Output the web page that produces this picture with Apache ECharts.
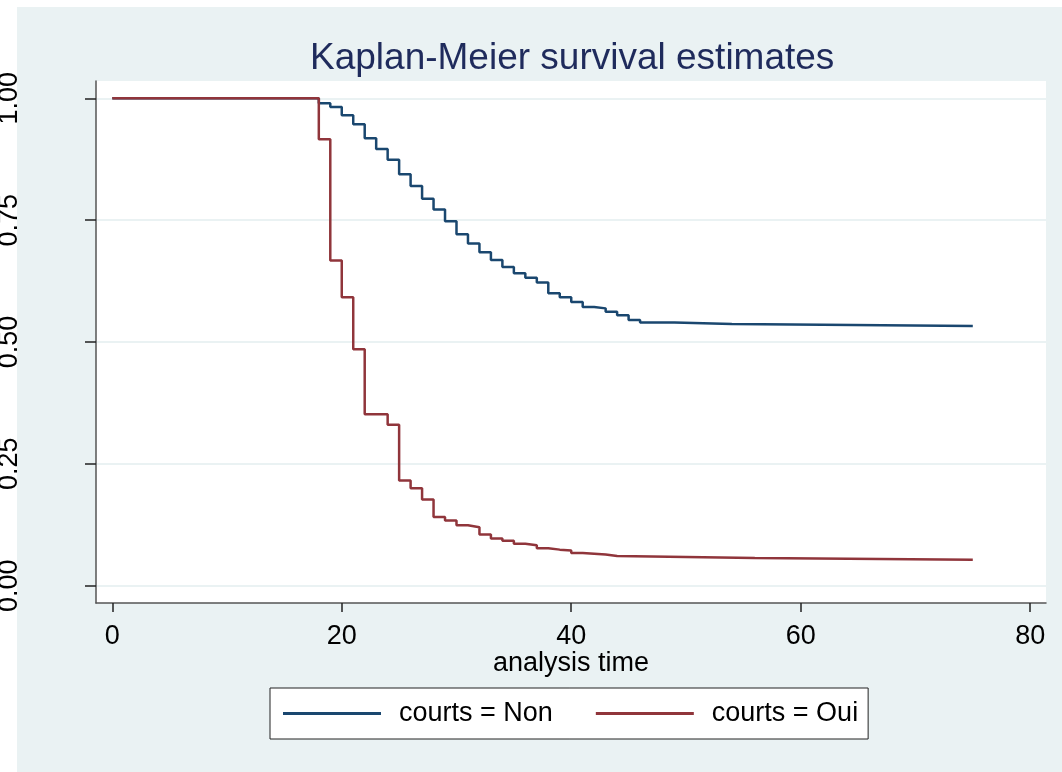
<!DOCTYPE html>
<html>
<head>
<meta charset="utf-8">
<title>Kaplan-Meier survival estimates</title>
<script src="https://cdn.jsdelivr.net/npm/echarts@6.0.0/dist/echarts.min.js"></script>
<style>
	html, body { margin: 0; padding: 0; background: #ffffff; }
	#wrap { position: relative; width: 1062px; height: 772px; overflow: hidden; }
	#bg { position: absolute; left: 17px; top: 7px; right: 0; bottom: 0; background: #eaf2f3; }
	#main { position: absolute; left: 0; top: 0; width: 1062px; height: 772px; }
</style>
</head>
<body>
<div id="wrap">
	<div id="bg"></div>
	<div id="main"></div>
</div>
<script>
// courts = Non
var nonTimes = [0, 18, 19, 20, 21, 22, 23, 24, 25, 26, 27, 28, 29, 30, 31, 32, 33, 34, 35, 36, 37, 38, 39, 40, 41, 42, 43, 44, 45, 46, 49, 54, 75];
var nonSurv  = [1, 0.990, 0.982, 0.965, 0.947, 0.918, 0.896, 0.874, 0.844, 0.820, 0.794, 0.772, 0.748, 0.721, 0.702, 0.684, 0.668, 0.654, 0.641, 0.632, 0.622, 0.600, 0.592, 0.582, 0.572, 0.569, 0.562, 0.555, 0.545, 0.540, 0.537, 0.533, 0.533];

// courts = Oui
var ouiTimes = [0, 18, 19, 20, 21, 22, 24, 25, 26, 27, 28, 29, 30, 31, 32, 33, 34, 35, 36, 37, 38, 39, 40, 41, 43, 44, 56, 75];
var ouiSurv  = [1, 0.916, 0.667, 0.592, 0.485, 0.352, 0.330, 0.216, 0.200, 0.177, 0.141, 0.134, 0.124, 0.120, 0.105, 0.097, 0.092, 0.086, 0.083, 0.077, 0.074, 0.072, 0.067, 0.064, 0.061, 0.057, 0.053, 0.053];

var xTicks = [0, 20, 40, 60, 80];
var yTicks = [0, 0.25, 0.5, 0.75, 1];

function pairs(xs, ys) {
	var out = [];
	for (var i = 0; i < xs.length; i++) out.push([xs[i], ys[i]]);
	return out;
}

var font = "'Liberation Sans', Arial, sans-serif";
var chart = echarts.init(document.getElementById('main'), null, { renderer: 'canvas' });

var option = {
	backgroundColor: 'transparent',
	animation: false,
	title: {
		text: 'Kaplan-Meier survival estimates',
		left: 310,
		top: 40,
		padding: 0,
		textStyle: { fontFamily: font, fontSize: 37, fontWeight: 'normal', color: '#1f2b5c' }
	},
	grid: {
		left: 96, right: 16, top: 81, bottom: 169,
		outerBoundsMode: 'none',
		containLabel: false,
		show: true, backgroundColor: '#ffffff', borderWidth: 0
	},
	legend: {
		left: 270, top: 688,
		padding: [12, 10, 12, 13],
		itemGap: 43,
		itemWidth: 98, itemHeight: 3,
		icon: 'rect',
		backgroundColor: '#ffffff',
		borderColor: '#222222', borderWidth: 1,
		textStyle: { fontFamily: font, fontSize: 27, color: '#000000', padding: [0, 0, 0, 13] },
		data: ['courts = Non', 'courts = Oui']
	},
	xAxis: {
		type: 'value',
		min: -1.42, max: 81.38,
		name: 'analysis time',
		nameLocation: 'middle',
		nameGap: 47,
		nameMoveOverlap: false,
		nameTextStyle: { fontFamily: font, fontSize: 27, color: '#000000' },
		axisLine: { show: true, onZero: false, lineStyle: { color: '#555555', width: 1.5 } },
		axisTick: { show: true, customValues: xTicks, length: 9, lineStyle: { color: '#222222', width: 1.5 } },
		axisLabel: { customValues: xTicks, fontFamily: font, fontSize: 27, color: '#000000', margin: 20 },
		splitLine: { show: false }
	},
	yAxis: {
		type: 'value',
		min: -0.0355, max: 1.0355,
		axisLine: { show: true, onZero: false, lineStyle: { color: '#555555', width: 1.5 } },
		axisTick: { show: true, customValues: yTicks, length: 11, lineStyle: { color: '#222222', width: 1.5 } },
		axisLabel: {
			customValues: yTicks, rotate: 90, margin: 73,
			fontFamily: font, fontSize: 27, color: '#000000',
			formatter: function(v) { return v.toFixed(2); }
		},
		splitLine: { show: true, lineStyle: { color: '#eaf2f3', width: 2 } }
	},
	series: [
		{
			name: 'courts = Non',
			type: 'line',
			step: 'end',
			showSymbol: false,
			symbol: 'none',
			data: pairs(nonTimes, nonSurv),
			itemStyle: { color: '#1a476f' },
			lineStyle: { color: '#1a476f', width: 2.5 }
		},
		{
			name: 'courts = Oui',
			type: 'line',
			step: 'end',
			showSymbol: false,
			symbol: 'none',
			data: pairs(ouiTimes, ouiSurv),
			itemStyle: { color: '#90353b' },
			lineStyle: { color: '#90353b', width: 2.5 }
		}
	]
};

chart.setOption(option);
</script>
</body>
</html>
